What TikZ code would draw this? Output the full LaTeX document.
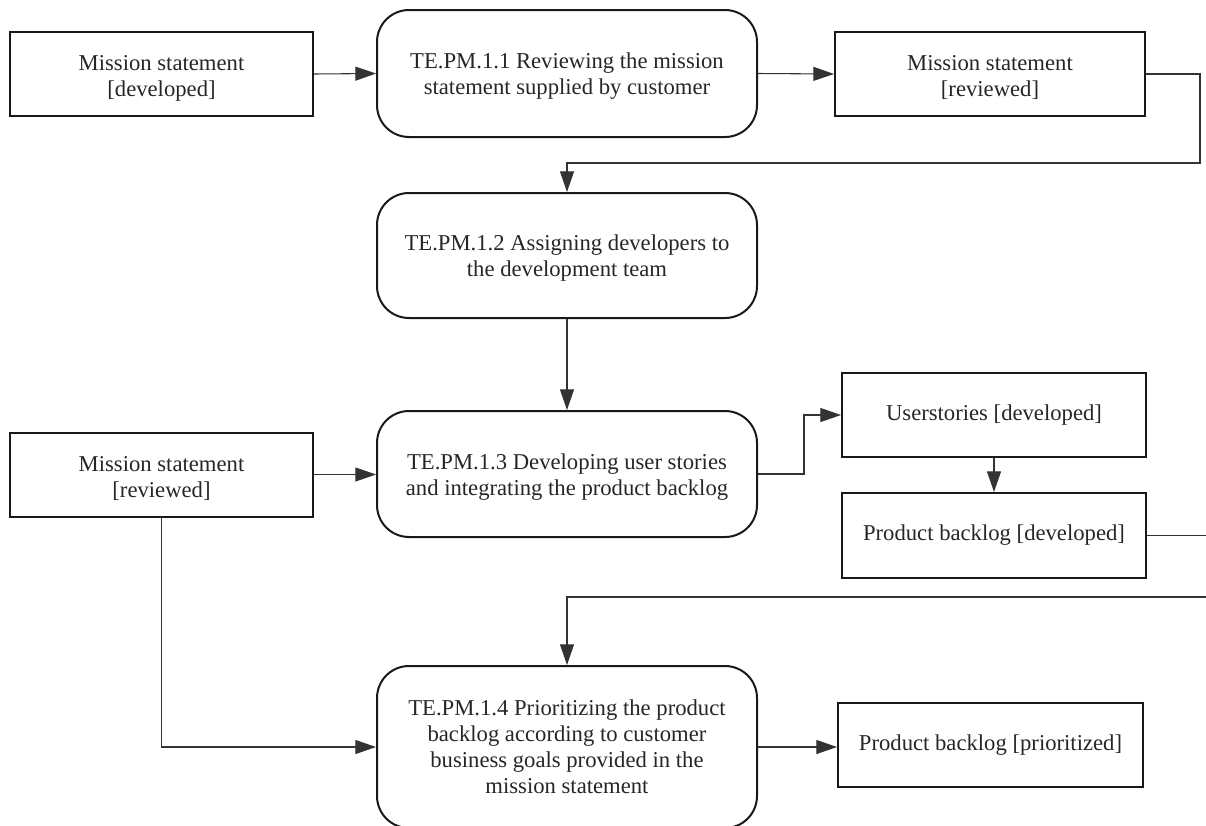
\documentclass[tikz,border=0pt]{standalone}
\usepackage{fontspec}
\setmainfont{Liberation Serif}
\usetikzlibrary{arrows.meta}

% stacked, centred lines, set a little lower than the box centre
\newcommand{\droplines}[2]{\raisebox{-#1}[\height][\depth]{\begin{tabular}{@{}c@{}}#2\end{tabular}}}

\begin{document}
\begin{tikzpicture}[x=0.75pt, y=-0.75pt,
  every node/.style={font=\fontsize{17}{19.5}\selectfont, text=black!85, align=center, inner sep=0pt},
  artifact/.style={draw=black!90, line width=1.5pt, rectangle, minimum height={84*0.75pt}},
  process/.style={draw=black!90, line width=1.5pt, rectangle, rounded corners=24pt, minimum width={380*0.75pt}},
  flow/.style={draw=black!80, line width=0.8pt, -{Triangle[length=15.5pt, width=10.5pt]}},
  plain/.style={draw=black!80, line width=0.8pt}
]
\useasboundingbox (0,0) rectangle (1206,825);

% row 1
\node[artifact, minimum width={303*0.75pt}] (msd) at (161.5,74)
  {\droplines{3.4pt}{Mission statement\\{[developed]}}};
\node[process, minimum height={127*0.75pt}] (p1) at (567,73.5)
  {\droplines{2.4pt}{TE.PM.1.1 Reviewing the mission\\statement supplied by customer}};
\node[artifact, minimum width={310*0.75pt}] (msr1) at (990,74)
  {\droplines{3.4pt}{Mission statement\\{[reviewed]}}};

% row 2
\node[process, minimum height={125*0.75pt}] (p2) at (567,255.5)
  {\droplines{2.4pt}{TE.PM.1.2 Assigning developers to\\the development team}};

% row 3
\node[process, minimum height={126*0.75pt}] (p3) at (567,474)
  {\droplines{2.4pt}{TE.PM.1.3 Developing user stories\\and integrating the product backlog}};
\node[artifact, minimum width={303*0.75pt}] (msr2) at (161.5,474.5)
  {\droplines{3.4pt}{Mission statement\\{[reviewed]}}};
\node[artifact, minimum width={304*0.75pt}] (us) at (994,415) {Userstories [developed]};
\node[artifact, minimum width={304*0.75pt}, minimum height={85*0.75pt}] (pb) at (994,535.5) {Product backlog [developed]};

% row 4
\node[process, minimum height={162*0.75pt}] (p4) at (567,747) {TE.PM.1.4 Prioritizing the product\\backlog according to customer\\business goals provided in the\\mission statement};
\node[artifact, minimum width={305*0.75pt}] (pp) at (990.5,745) {Product backlog [prioritized]};

% routing points
\coordinate (r1) at (1200,163);
\coordinate (r2) at (804,474);
\coordinate (e1) at (1206,538);
\coordinate (e2) at (1206,597);

% connectors
\draw[flow] (msd.east) -- (p1.west);
\draw[flow] (p1.east) -- (msr1.west);
\draw[flow] (msr1.east) -| (r1) -| (p2.north);
\draw[flow] (p2.south) -- (p3.north);
\draw[flow] (msr2.east) -- (p3.west |- msr2.east);
\draw[flow] (p3.east) -- (r2) |- (us.west);
\draw[flow] (us.south) -- (pb.north);
\draw[plain] (pb.east) -- (pb.east -| e1);
\draw[flow] (e2) -| (p4.north);
\draw[flow] (msr2.south) |- (p4.west);
\draw[flow] (p4.east) -- (p4.east -| pp.west);
\end{tikzpicture}
\end{document}
